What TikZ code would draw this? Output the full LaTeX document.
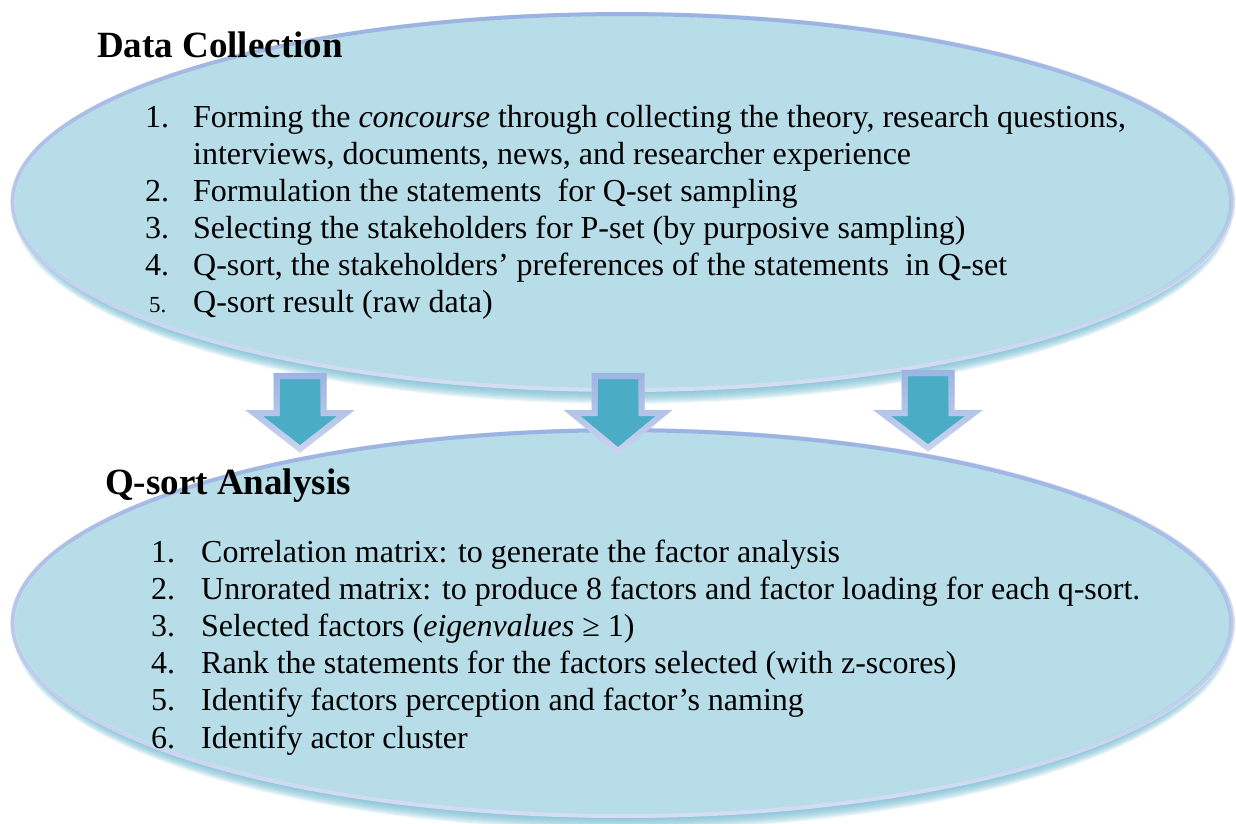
\documentclass[tikz,border=0pt]{standalone}
\usepackage{fontspec}
\setmainfont{Liberation Serif}
\usetikzlibrary{fadings}
\definecolor{ellfill}{RGB}{183,221,232}
\definecolor{elldark}{RGB}{155,179,226}
\definecolor{elllight}{RGB}{214,222,243}
\definecolor{shadowc}{RGB}{105,182,205}
\definecolor{arrfill}{RGB}{75,172,198}
\definecolor{arrlight}{RGB}{203,214,239}
\definecolor{arrdark}{RGB}{158,180,228}
\tikzfading[name=fadedown, top color=transparent!0, middle color=transparent!25, bottom color=transparent!100]
\begin{document}
\begin{tikzpicture}[x=1pt,y=1pt,
  title/.style={anchor=base west, inner sep=0pt, font=\fontsize{37}{44}\selectfont\bfseries},
  item/.style={anchor=base west, inner sep=0pt, font=\fontsize{32}{37}\selectfont},
  smallnum/.style={anchor=base west, inner sep=0pt, font=\fontsize{23}{28}\selectfont},
  ellborder/.style={line width=4pt},
  arrborder/.style={line width=6pt, line join=miter},
  shadowlayer/.style={fill=shadowc, opacity=0.1},
]
\useasboundingbox (0,-823) rectangle (1236,0);
% soft shadows
\foreach \k in {0,...,12}{
  \fill[shadowlayer] (623,-211) ellipse [x radius={600+0.8*\k}, y radius={181+\k}];
  \fill[shadowlayer] (623,-632) ellipse [x radius={600+0.8*\k}, y radius={186+\k}];
}
% top ellipse
\fill[ellfill] (623,-202) ellipse [x radius=610, y radius=188];
\draw[elllight, ellborder] (623,-202) ellipse [x radius=610, y radius=188];
\draw[elldark, ellborder, path fading=fadedown] (623,-202) ellipse [x radius=610, y radius=188];
% bottom ellipse
\fill[ellfill] (623,-623) ellipse [x radius=610, y radius=193];
\draw[elllight, ellborder] (623,-623) ellipse [x radius=610, y radius=193];
\draw[elldark, ellborder, path fading=fadedown] (623,-623) ellipse [x radius=610, y radius=193];
% block arrows
\foreach \cx/\ty/\tp in {300/376/449, 618/376/451, 928/373/448}{
  \filldraw[arrfill, draw=arrlight, arrborder]
    (\cx-23.5,-\ty) -- (\cx+23.5,-\ty) -- (\cx+23.5,-413) -- (\cx+46,-413)
    -- (\cx,-\tp) -- (\cx-46,-413) -- (\cx-23.5,-413) -- cycle;
  \draw[arrdark, arrborder, path fading=fadedown]
    (\cx-23.5,-\ty) -- (\cx+23.5,-\ty) -- (\cx+23.5,-413) -- (\cx+46,-413)
    -- (\cx,-\tp) -- (\cx-46,-413) -- (\cx-23.5,-413) -- cycle;
}
% Data collection
\node[title] (t1) at (97,-57) {Data Collection};
\node[item] (n1) at (145,-127) {1.};
\node[item] (a1) at (193,-127) {Forming the \textit{concourse} through collecting the theory, research questions,};
\node[item] (a1b) at (193,-164) {interviews, documents, news, and researcher experience};
\node[item] (n2) at (145,-201) {2.};
\node[item] (a2) at (193,-201) {Formulation the statements\ \ for Q-set sampling};
\node[item] (n3) at (145,-238) {3.};
\node[item] (a3) at (193,-238) {Selecting the stakeholders for P-set (by purposive sampling)};
\node[item] (n4) at (145,-275) {4.};
\node[item] (a4) at (193,-275) {Q-sort, the stakeholders’ preferences of the statements\ \ in Q-set};
\node[smallnum] (n5) at (149,-312) {5.};
\node[item] (a5) at (193,-312) {Q-sort result (raw data)};
% Q-sort analysis
\node[title] (t2) at (105,-494) {Q-sort Analysis};
\node[item] (m1) at (151,-562) {1.};
\node[item] (b1) at (201,-562) {Correlation matrix: to generate the factor analysis};
\node[item] (m2) at (151,-599) {2.};
\node[item] (b2) at (201,-599) {Unrorated matrix: to produce 8 factors and factor loading for each q-sort.};
\node[item] (m3) at (151,-636) {3.};
\node[item] (b3) at (201,-636) {Selected factors (\textit{eigenvalues} ≥ 1)};
\node[item] (m4) at (151,-673) {4.};
\node[item] (b4) at (201,-673) {Rank the statements for the factors selected (with z-scores)};
\node[item] (m5) at (151,-710) {5.};
\node[item] (b5) at (201,-710) {Identify factors perception and factor’s naming};
\node[item] (m6) at (151,-748) {6.};
\node[item] (b6) at (201,-748) {Identify actor cluster};
\end{tikzpicture}
\end{document}
